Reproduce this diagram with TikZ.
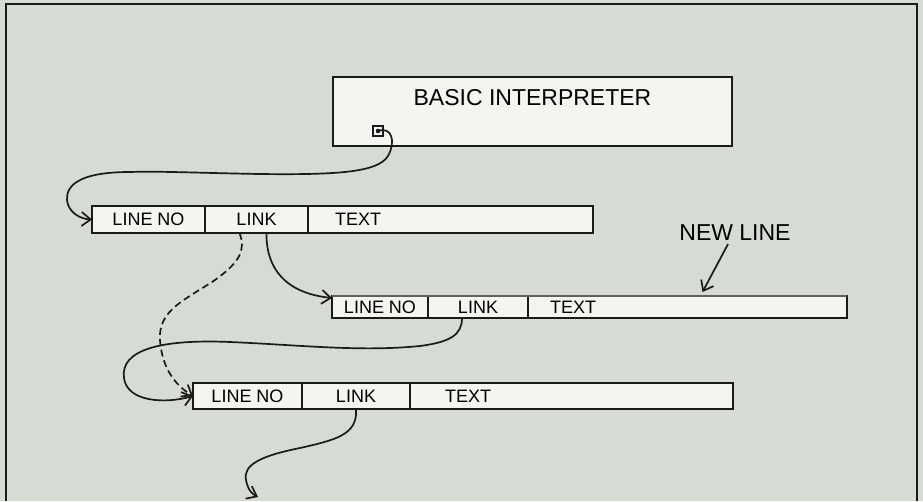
\documentclass[tikz,border=0pt]{standalone}
\usepackage{fontspec}
\setmainfont{Liberation Sans}
\usepackage{tikz}
\usetikzlibrary{arrows.meta, positioning}
\definecolor{paper}{HTML}{D6DCD4}
\definecolor{card}{HTML}{F3F5F1}
\definecolor{ink}{HTML}{1A1A1A}
\tikzstyle{frame} = [draw = ink, line width = 1.6pt]
\tikzstyle{field} = [rectangle, draw = ink, fill = card, line width = 1.8pt, inner sep = 0pt, outer sep = 0pt, font = \fontsize{18}{20}\selectfont, anchor = west]
\tikzstyle{textfield} = [field, align = left]
\tikzstyle{interp} = [rectangle, draw = ink, fill = card, line width = 1.8pt, inner ysep = 0pt, text height = 29pt, text depth = 40pt, minimum width = 399pt, font = \fontsize{23}{25}\selectfont, anchor = north]
\tikzstyle{port} = [rectangle, draw = ink, fill = card, line width = 1.3pt, minimum size = 10pt, inner sep = 0pt, path picture = {\fill [ink] (path picture bounding box.center) circle (2.3pt);}]
\tikzstyle{tag} = [font = \fontsize{23}{25}\selectfont, inner sep = 3pt]
\tikzstyle{link} = [draw = ink, line width = 1.7pt, -{Straight Barb[length = 9pt, width = 14pt]}]
\tikzstyle{link2} = [link, dashed, dash pattern = on 7pt off 4pt]

\begin{document}
\begin{tikzpicture}[x = 1pt, y = -1pt]
			\path [use as bounding box, fill = paper] (0, 0) rectangle (923, 501);
			\draw [frame] (6, 501) -- (6, 4) -- (917, 4) -- (917, 501);

			% Place nodes
			\node [interp] (interp) at (532.5, 76) {BASIC INTERPRETER};
			\node [port] (ptr) at (378, 131) {};

			\node [field, minimum width = 113pt, minimum height = 27pt] (noA) at (92, 219.5) {LINE NO};
			\node [field, minimum width = 103pt, minimum height = 27pt, right = 0pt of noA] (linkA) {LINK};
			\node [textfield, inner xsep = 27pt, text width = 231pt, minimum height = 27pt, right = 0pt of linkA] (textA) {TEXT};

			\node [field, minimum width = 96pt, minimum height = 22pt] (noB) at (332, 307) {LINE NO};
			\node [field, minimum width = 100pt, minimum height = 22pt, right = 0pt of noB] (linkB) {LINK};
			\node [textfield, inner xsep = 22pt, text width = 275pt, minimum height = 22pt, right = 0pt of linkB] (textB) {TEXT};
			% heavier top edge of the new line
			\draw [line width = 2.8pt, ink!70] (noB.north west) -- (textB.north east);

			\node [field, minimum width = 109pt, minimum height = 26pt] (noC) at (193, 396) {LINE NO};
			\node [field, minimum width = 108pt, minimum height = 26pt, right = 0pt of noC] (linkC) {LINK};
			\node [textfield, inner xsep = 35pt, text width = 253pt, minimum height = 26pt, right = 0pt of linkC] (textC) {TEXT};

			\node [tag] (newline) at (735, 233) {NEW LINE};
			\coordinate (down) at (258, 497);

			% Draw edges
			\path [link] (ptr.center) .. controls (392, 126) and (396, 142) .. (388, 156)
				.. controls (378, 172) and (340, 175) .. (260, 174)
				.. controls (200, 173) and (160, 171) .. (130, 172)
				.. controls (80, 172) and (66, 185) .. (67, 200)
				.. controls (68, 212) and (80, 219) .. (noA.west);
			\path [link] ([xshift = 10pt]linkA.south) .. controls (266, 268) and (285, 293) .. ([yshift = -2pt]noB.north west);
			\path [link2] ([xshift = -17pt]linkA.south) .. controls (246, 250) and (240, 262) .. (215, 280)
				.. controls (185, 300) and (158, 310) .. (160, 340)
				.. controls (162, 368) and (175, 385) .. (noC.west);
			\path [link] ([xshift = -16pt]linkB.south) .. controls (462, 335) and (450, 342) .. (420, 346)
				.. controls (360, 352) and (300, 345) .. (230, 342)
				.. controls (160, 339) and (120, 350) .. (124, 378)
				.. controls (127, 402) and (165, 404) .. (noC.west);
			\path [link] (linkC.south) .. controls (358, 435) and (335, 440) .. (300, 448)
				.. controls (260, 456) and (243, 465) .. (246, 480)
				.. controls (248, 490) and (252, 494) .. (down);
			\path [link] ([xshift = -7pt]newline.south) -- ([xshift = 15pt, yshift = 4pt]textB.north);
		\end{tikzpicture}
\end{document}
